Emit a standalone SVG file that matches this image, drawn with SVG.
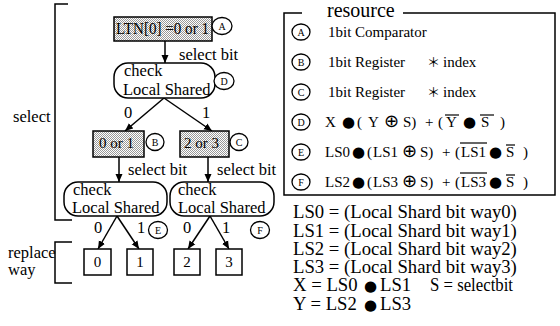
<svg xmlns="http://www.w3.org/2000/svg" width="560" height="326" viewBox="0 0 560 326">
<defs>
<pattern id="dots" width="2" height="2" patternUnits="userSpaceOnUse">
<rect width="2" height="2" fill="#fff"/>
<rect x="0" y="0" width="1" height="1" fill="#999"/>
<rect x="1" y="1" width="1" height="1" fill="#999"/>
</pattern>
<marker id="arr" markerWidth="9" markerHeight="8" refX="8" refY="4" orient="auto" markerUnits="userSpaceOnUse">
<path d="M0,0.5 L8,4 L0,7.5 Z" fill="#000"/>
</marker>
</defs>
<style>
text{font-family:"Liberation Serif","Times New Roman",serif;fill:#000}
.n{font-size:16.5px}
.s{font-size:15px}
.lbl{font-size:16.5px}
.ls{font-size:18.7px}
.c{font-size:10px;text-anchor:middle}
.bul{font-family:"DejaVu Sans",sans-serif;font-size:15px}
.op{font-family:"DejaVu Sans",sans-serif;font-size:18px}
.ast{font-family:"Noto Sans CJK JP",sans-serif;font-size:13px}
.box{fill:#fff;stroke:#000;stroke-width:1.5}
.dot{fill:url(#dots);stroke:#000;stroke-width:1.5}
.circ{fill:#fff;stroke:#000;stroke-width:1.3}
.ln{fill:none;stroke:#000;stroke-width:1.5}
.ol{stroke:#000;stroke-width:1.2}
</style>
<rect width="560" height="326" fill="#fff"/>

<g id="brackets">
<path class="ln" d="M68,4 H55 V220 H72"/>
<text x="13" y="122" class="lbl">select</text>
<path class="ln" d="M72,242 H55 V283 H72"/>
<text x="8" y="258" class="lbl">replace</text>
<text x="8" y="275" class="lbl">way</text>
</g>

<g id="connectors">
<line class="ln" x1="165" y1="41" x2="165" y2="63" marker-end="url(#arr)"/>
<line class="ln" x1="164" y1="98" x2="125" y2="131" marker-end="url(#arr)"/>
<line class="ln" x1="164" y1="98" x2="212" y2="131" marker-end="url(#arr)"/>
<line class="ln" x1="119" y1="157" x2="119" y2="182" marker-end="url(#arr)"/>
<line class="ln" x1="208" y1="157" x2="208" y2="182" marker-end="url(#arr)"/>
<line class="ln" x1="117" y1="216" x2="98" y2="249" marker-end="url(#arr)"/>
<line class="ln" x1="117" y1="216" x2="139" y2="249" marker-end="url(#arr)"/>
<line class="ln" x1="210" y1="216" x2="188" y2="249" marker-end="url(#arr)"/>
<line class="ln" x1="210" y1="216" x2="229" y2="249" marker-end="url(#arr)"/>
<text x="179" y="60" class="lbl">select bit</text>
<text x="124" y="118" class="lbl">0</text>
<text x="202" y="118" class="lbl">1</text>
<text x="128" y="175" class="lbl">select bit</text>
<text x="217" y="175" class="lbl">select bit</text>
<text x="94" y="233" class="lbl">0</text>
<text x="137" y="233" class="lbl">1</text>
<text x="183" y="233" class="lbl">0</text>
<text x="222" y="233" class="lbl">1</text>
</g>

<g id="nodeA">
<rect class="dot" x="114" y="17" width="98" height="24"/>
<text x="116" y="34" class="n" textLength="93" lengthAdjust="spacingAndGlyphs">LTN[0] =0 or 1</text>
<ellipse class="circ" cx="222" cy="26" rx="10" ry="8.5"/>
<text x="222" y="30" class="c">A</text>
</g>
<g id="nodeD">
<rect class="box" x="114" y="63" width="101" height="35" rx="14"/>
<text x="124" y="76" class="n">check</text>
<text x="123" y="95" class="n">Local Shared</text>
<ellipse class="circ" cx="224" cy="81" rx="10" ry="8.5"/>
<text x="224" y="85" class="c">D</text>
</g>
<g id="nodeB">
<rect class="dot" x="93" y="131" width="51" height="26"/>
<text x="99" y="148" class="s">0 or 1</text>
<ellipse class="circ" cx="155" cy="142" rx="9" ry="8.5"/>
<text x="155" y="146" class="c">B</text>
</g>
<g id="nodeC">
<rect class="dot" x="180" y="131" width="49" height="26"/>
<text x="184" y="148" class="s">2 or 3</text>
<ellipse class="circ" cx="239" cy="142" rx="9" ry="8.5"/>
<text x="239" y="146" class="c">C</text>
</g>
<g id="nodeE">
<rect class="box" x="64" y="182" width="103" height="34" rx="14"/>
<text x="73" y="195" class="n">check</text>
<text x="72" y="213" class="n">Local Shared</text>
<ellipse class="circ" cx="158" cy="230" rx="9.5" ry="8.5"/>
<text x="158" y="234" class="c">E</text>
</g>
<g id="nodeF">
<rect class="box" x="170" y="182" width="104" height="34" rx="14"/>
<text x="178" y="195" class="n">check</text>
<text x="178" y="213" class="n">Local Shared</text>
<ellipse class="circ" cx="260" cy="230" rx="9.5" ry="8.5"/>
<text x="260" y="234" class="c">F</text>
</g>
<g id="way0"><rect class="box" x="84" y="249" width="27" height="26"/><text x="97.5" y="267" class="s" text-anchor="middle">0</text></g>
<g id="way1"><rect class="box" x="127" y="249" width="26" height="26"/><text x="140" y="267" class="s" text-anchor="middle">1</text></g>
<g id="way2"><rect class="box" x="174" y="249" width="26" height="26"/><text x="187" y="267" class="s" text-anchor="middle">2</text></g>
<g id="way3"><rect class="box" x="216" y="249" width="26" height="26"/><text x="229" y="267" class="s" text-anchor="middle">3</text></g>

<g id="resource">
<path class="ln" d="M302,13 H284 V195 H555 V13 H403"/>
<text x="327" y="17" style="font-size:20px">resource</text>
<ellipse class="circ" cx="301" cy="32" rx="9" ry="8"/><text x="301" y="35.5" class="c">A</text>
<ellipse class="circ" cx="301" cy="62" rx="9" ry="8"/><text x="301" y="65.5" class="c">B</text>
<ellipse class="circ" cx="301" cy="92" rx="9" ry="8"/><text x="301" y="95.5" class="c">C</text>
<ellipse class="circ" cx="301" cy="122" rx="9" ry="8"/><text x="301" y="125.5" class="c">D</text>
<ellipse class="circ" cx="301" cy="152" rx="9" ry="8"/><text x="301" y="155.5" class="c">E</text>
<ellipse class="circ" cx="301" cy="182" rx="9" ry="8"/><text x="301" y="185.5" class="c">F</text>

<text x="328" y="37" class="s">1bit Comparator</text>
<text x="328" y="67" class="s">1bit Register<tspan class="ast" x="427">＊</tspan><tspan x="443">index</tspan></text>
<text x="328" y="97" class="s">1bit Register<tspan class="ast" x="427">＊</tspan><tspan x="443">index</tspan></text>

<text y="127" class="s"><tspan x="325">X</tspan><tspan class="bul" x="342">●</tspan><tspan x="357">(</tspan><tspan x="368">Y</tspan><tspan class="op" x="384">⊕</tspan><tspan x="403">S)</tspan><tspan x="425">+</tspan><tspan x="438">(</tspan><tspan x="446">Y</tspan><tspan class="bul" x="463">●</tspan><tspan x="481">S</tspan><tspan x="500">)</tspan></text>
<line class="ol" x1="445" y1="115" x2="459" y2="115"/>
<line class="ol" x1="480" y1="115" x2="494" y2="115"/>

<text y="157" class="s"><tspan x="325">LS0</tspan><tspan class="bul" x="352">●</tspan><tspan x="367">(</tspan><tspan x="373">LS1</tspan><tspan class="op" x="402">⊕</tspan><tspan x="420">S)</tspan><tspan x="442">+</tspan><tspan x="455">(</tspan><tspan x="461">LS1</tspan><tspan class="bul" x="489">●</tspan><tspan x="506">S</tspan><tspan x="523">)</tspan></text>
<line class="ol" x1="460" y1="143" x2="487" y2="143"/>
<line class="ol" x1="506" y1="145" x2="515" y2="145"/>

<text y="187" class="s"><tspan x="325">LS2</tspan><tspan class="bul" x="352">●</tspan><tspan x="367">(</tspan><tspan x="373">LS3</tspan><tspan class="op" x="402">⊕</tspan><tspan x="420">S)</tspan><tspan x="442">+</tspan><tspan x="455">(</tspan><tspan x="461">LS3</tspan><tspan class="bul" x="489">●</tspan><tspan x="506">S</tspan><tspan x="523">)</tspan></text>
<line class="ol" x1="460" y1="173" x2="487" y2="173"/>
<line class="ol" x1="506" y1="175" x2="515" y2="175"/>
</g>

<g id="legend">
<text x="293" y="218" class="ls">LS0 = (Local Shard bit way0)</text>
<text x="293" y="236.5" class="ls">LS1 = (Local Shard bit way1)</text>
<text x="293" y="255" class="ls">LS2 = (Local Shard bit way2)</text>
<text x="293" y="273" class="ls">LS3 = (Local Shard bit way3)</text>
<text x="293" y="291" class="ls">X = LS0<tspan class="bul" x="364">●</tspan><tspan x="380">LS1</tspan><tspan x="430" textLength="83" lengthAdjust="spacingAndGlyphs">S = selectbit</tspan></text>
<text x="293" y="309.5" class="ls">Y = LS2<tspan class="bul" x="364">●</tspan><tspan x="380">LS3</tspan></text>
</g>
</svg>
